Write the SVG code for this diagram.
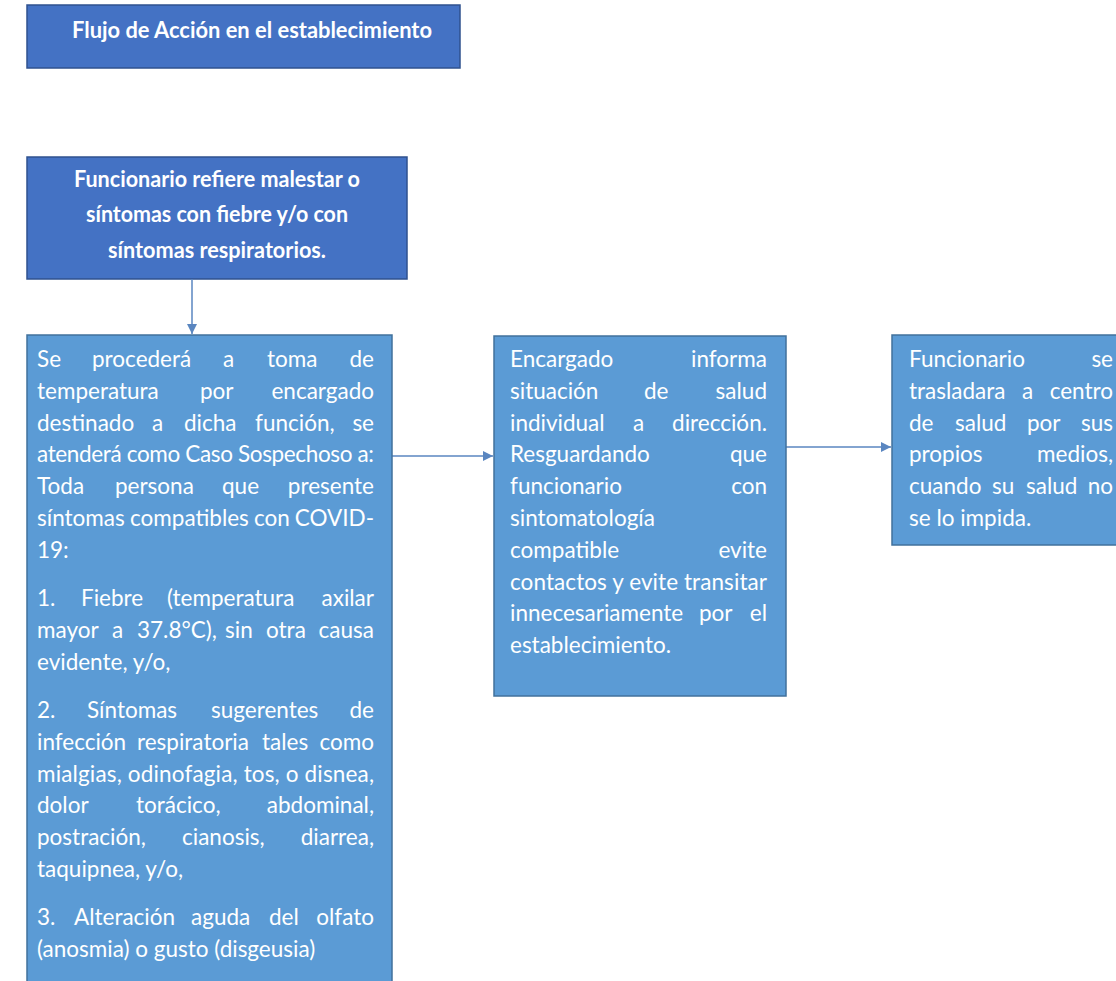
<svg xmlns="http://www.w3.org/2000/svg" width="1116" height="981" viewBox="0 0 1116 981">
<defs>
<style>
.dk{fill:#4472C4;stroke:#2F528F;stroke-width:1.5}
.lt{fill:#5B9BD5;stroke:#41719C;stroke-width:1.5}
text{font-family:Lato,"Open Sans","Liberation Sans",sans-serif;fill:#ffffff;font-size:22.5px}
.b{font-weight:700}
.e{text-anchor:end}
.m{text-anchor:middle}
.c{fill:none;stroke:#5A86C0;stroke-width:1.5}
</style>
<marker id="ah" viewBox="0 0 10 10" refX="10" refY="5" markerWidth="10" markerHeight="10" orient="auto" markerUnits="userSpaceOnUse">
<path d="M0,0 L10,5 L0,10 z" fill="#5A86C0"/>
</marker>
</defs>
<rect width="1116" height="981" fill="#ffffff"/>

<g id="title">
<rect class="dk" x="27" y="5" width="433" height="63"/>
<text class="b" x="72" y="38" textLength="360" lengthAdjust="spacingAndGlyphs">Flujo de Acción en el establecimiento</text>
</g>

<g id="n1">
<rect class="dk" x="27" y="157" width="380" height="122"/>
<text class="b m" x="217" y="187" textLength="286" lengthAdjust="spacingAndGlyphs">Funcionario refiere malestar o</text>
<text class="b m" x="217" y="222" textLength="262" lengthAdjust="spacingAndGlyphs">síntomas con fiebre y/o con</text>
<text class="b m" x="217" y="258" textLength="218" lengthAdjust="spacingAndGlyphs">síntomas respiratorios.</text>
</g>

<g id="connectors">
<line class="c" x1="192" y1="279" x2="192" y2="334" marker-end="url(#ah)"/>
<line class="c" x1="392" y1="456" x2="493" y2="456" marker-end="url(#ah)"/>
<line class="c" x1="786" y1="447" x2="891" y2="447" marker-end="url(#ah)"/>
</g>

<g id="n2">
<rect class="lt" x="27" y="335" width="365" height="660"/>
<text y="367"><tspan x="37">Se</tspan><tspan x="92">procederá</tspan><tspan x="223">a</tspan><tspan x="267">toma</tspan></text><text class="e" x="374" y="367">de</text>
<text y="399"><tspan x="37">temperatura</tspan><tspan x="200">por</tspan></text><text class="e" x="374" y="399">encargado</text>
<text y="431"><tspan x="37">destinado</tspan><tspan x="152">a</tspan><tspan x="184">dicha</tspan><tspan x="255">función,</tspan></text><text class="e" x="374" y="431">se</text>
<text x="37" y="462" textLength="337" lengthAdjust="spacing">atenderá como Caso Sospechoso a:</text>
<text y="494"><tspan x="37">Toda</tspan><tspan x="115">persona</tspan><tspan x="222">que</tspan></text><text class="e" x="374" y="494">presente</text>
<text y="526"><tspan x="37">síntomas</tspan><tspan x="130">compatibles</tspan><tspan x="254">con</tspan></text><text class="e" x="374" y="526">COVID-</text>
<text x="37" y="558">19:</text>
<text y="606"><tspan x="37">1.</tspan><tspan x="81">Fiebre</tspan><tspan x="167">(temperatura</tspan></text><text class="e" x="374" y="606">axilar</text>
<text y="638"><tspan x="37">mayor</tspan><tspan x="112">a</tspan><tspan x="137">37.8°C),</tspan><tspan x="225">sin</tspan><tspan x="266">otra</tspan></text><text class="e" x="374" y="638">causa</text>
<text x="37" y="670">evidente, y/o,</text>
<text y="718"><tspan x="37">2.</tspan><tspan x="87">Síntomas</tspan><tspan x="211">sugerentes</tspan></text><text class="e" x="374" y="718">de</text>
<text y="750"><tspan x="37">infección</tspan><tspan x="137">respiratoria</tspan><tspan x="262">tales</tspan></text><text class="e" x="374" y="750">como</text>
<text x="37" y="782" textLength="337" lengthAdjust="spacing">mialgias, odinofagia, tos, o disnea,</text>
<text y="813"><tspan x="37">dolor</tspan><tspan x="136">torácico,</tspan></text><text class="e" x="374" y="813">abdominal,</text>
<text y="845"><tspan x="37">postración,</tspan><tspan x="182">cianosis,</tspan></text><text class="e" x="374" y="845">diarrea,</text>
<text x="37" y="877">taquipnea, y/o,</text>
<text y="925"><tspan x="37">3.</tspan><tspan x="74">Alteración</tspan><tspan x="191">aguda</tspan><tspan x="269">del</tspan></text><text class="e" x="374" y="925">olfato</text>
<text x="37" y="957">(anosmia) o gusto (disgeusia)</text>
</g>

<g id="n3">
<rect class="lt" x="494" y="336" width="292" height="360"/>
<text x="510" y="367">Encargado</text><text class="e" x="767" y="367">informa</text>
<text y="399"><tspan x="510">situación</tspan><tspan x="644">de</tspan></text><text class="e" x="767" y="399">salud</text>
<text y="431"><tspan x="510">individual</tspan><tspan x="633">a</tspan></text><text class="e" x="767" y="431">dirección.</text>
<text x="510" y="462">Resguardando</text><text class="e" x="767" y="462">que</text>
<text x="510" y="494">funcionario</text><text class="e" x="767" y="494">con</text>
<text x="510" y="526">sintomatología</text>
<text x="510" y="558">compatible</text><text class="e" x="767" y="558">evite</text>
<text x="510" y="590" textLength="257" lengthAdjust="spacing">contactos y evite transitar</text>
<text y="621"><tspan x="510">innecesariamente</tspan><tspan x="699">por</tspan></text><text class="e" x="767" y="621">el</text>
<text x="510" y="653">establecimiento.</text>
</g>

<g id="n4">
<rect class="lt" x="892" y="335" width="230" height="210"/>
<text x="909" y="367">Funcionario</text><text class="e" x="1113" y="367">se</text>
<text y="399"><tspan x="909">trasladara</tspan><tspan x="1022">a</tspan></text><text class="e" x="1113" y="399">centro</text>
<text y="431"><tspan x="909">de</tspan><tspan x="955">salud</tspan><tspan x="1027">por</tspan></text><text class="e" x="1113" y="431">sus</text>
<text x="909" y="462">propios</text><text class="e" x="1113" y="462">medios,</text>
<text y="494"><tspan x="909">cuando</tspan><tspan x="992">su</tspan><tspan x="1026">salud</tspan></text><text class="e" x="1113" y="494">no</text>
<text x="909" y="526">se lo impida.</text>
</g>
</svg>
